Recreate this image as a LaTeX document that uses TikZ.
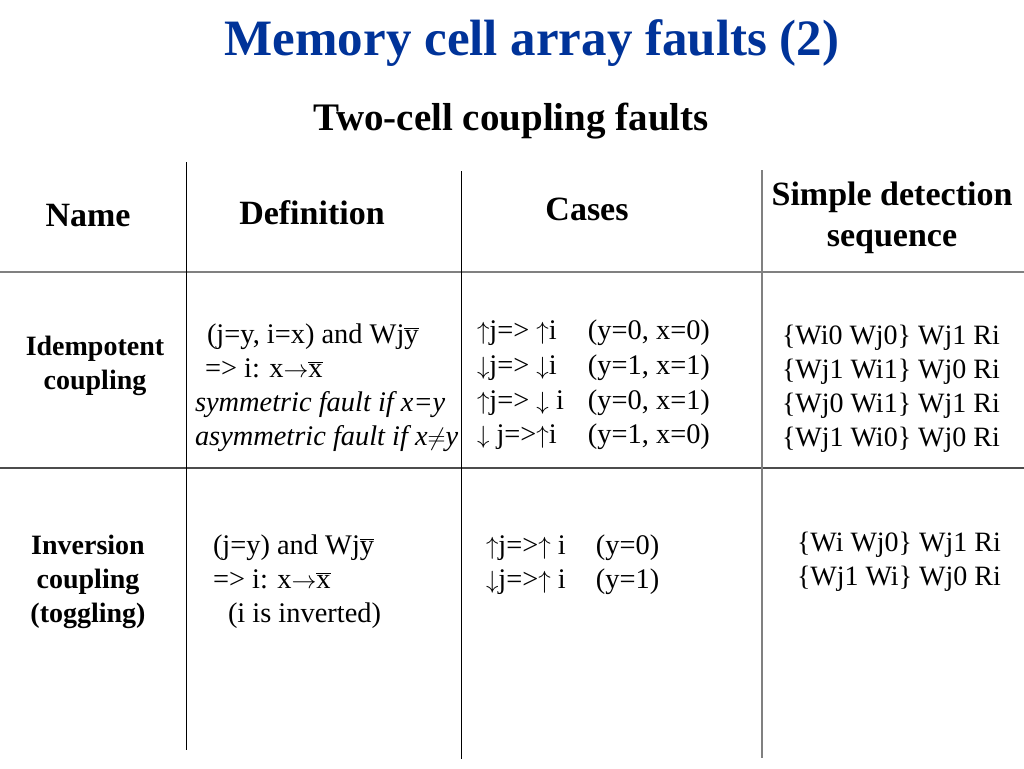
\documentclass[tikz,border=0pt]{standalone}
\usepackage{fontspec}
\setmainfont{Liberation Serif}
\definecolor{titleblue}{HTML}{003399}
\definecolor{rulegray}{HTML}{808080}
\newcommand\ovl[1]{$\overline{\hbox{#1}}$}
\newcommand\up{$\uparrow$}
\newcommand\dn{$\downarrow$}
\newcommand\ra{$\rightarrow$}
\begin{document}
\begin{tikzpicture}[x=1pt,y=-1pt,
  every node/.style={inner sep=0pt,outer sep=0pt},
  titlefont/.style={font=\fontsize{51}{60}\selectfont\bfseries,text=titleblue},
  subfont/.style={font=\fontsize{39}{46}\selectfont\bfseries},
  headfont/.style={font=\fontsize{34}{40}\selectfont\bfseries},
  labfont/.style={font=\fontsize{28}{34}\selectfont\bfseries},
  bodyfont/.style={font=\fontsize{28.4}{34}\selectfont},
  seqfont/.style={font=\fontsize{28}{34}\selectfont},
  hrule/.style={draw=rulegray,line width=2.2pt},
  vrule/.style={draw=black,line width=1pt}]
\useasboundingbox[fill=white] (0,0) rectangle (1024,768);
% rules
\coordinate (h1l) at (0,272); \coordinate (h1r) at (1024,272);
\coordinate (h2l) at (0,468); \coordinate (h2r) at (1024,468);
\coordinate (v1t) at (186,162); \coordinate (v1b) at (186,750);
\coordinate (v2t) at (461,171); \coordinate (v2b) at (461,759);
\coordinate (v3t) at (762,170); \coordinate (v3b) at (762,758);
\draw[hrule] (h1l) -- (h1r);
\draw[hrule,draw=black!70] (h2l) -- (h2r);
\draw[vrule] (v1t) -- (v1b);
\draw[vrule] (v2t) -- (v2b);
\draw[vrule,draw=rulegray,line width=1.6pt] (v3t) -- (v3b);
% titles
\node[titlefont,anchor=base] (title) at (532,56) {Memory cell array faults (2)};
\node[subfont,anchor=base] (sub) at (511,130) {Two-cell coupling faults};
% headers
\node[headfont,anchor=base] (hname) at (88,226) {Name};
\node[headfont,anchor=base] (hdef) at (312,224) {Definition};
\node[headfont,anchor=base] (hcases) at (587,220) {Cases};
\node[headfont,anchor=base] (hsimple) at (892,205) {Simple detection};
\node[headfont,anchor=base] (hseq) at (892,246) {sequence};
% row 1 label
\node[labfont,anchor=base] (l1a) at (95,355) {Idempotent};
\node[labfont,anchor=base] (l1b) at (95,389) {coupling};
% row 1 definition
\node[bodyfont,anchor=base west] (d1a) at (207,343) {(j=y, i=x) and Wj\ovl{y}};
\node[bodyfont,anchor=base west] (d1b) at (205,377) {=> i: x\ra\ovl{x}};
\node[bodyfont,anchor=base west] (d1c) at (195,411) {\itshape symmetric fault if x=y};
\node[bodyfont,anchor=base west] (d1d) at (195,445) {\itshape asymmetric fault if x$\neq$y};
% row 1 cases
\node[bodyfont,anchor=base west] (c1a) at (477,339) {\makebox[111pt][l]{\up j=> \up i}(y=0, x=0)};
\node[bodyfont,anchor=base west] (c1b) at (477,374) {\makebox[111pt][l]{\dn j=> \dn i}(y=1, x=1)};
\node[bodyfont,anchor=base west] (c1c) at (477,409) {\makebox[111pt][l]{\up j=> \dn\ i}(y=0, x=1)};
\node[bodyfont,anchor=base west] (c1d) at (477,443) {\makebox[111pt][l]{\dn\ j=>\up i}(y=1, x=0)};
% row 1 detection
\node[seqfont,anchor=base west] (s1a) at (782,344) {\{Wi0 Wj0\} Wj1 Ri};
\node[seqfont,anchor=base west] (s1b) at (782,378) {\{Wj1 Wi1\} Wj0 Ri};
\node[seqfont,anchor=base west] (s1c) at (782,412) {\{Wj0 Wi1\} Wj1 Ri};
\node[seqfont,anchor=base west] (s1d) at (782,446) {\{Wj1 Wi0\} Wj0 Ri};
% row 2 label
\node[labfont,anchor=base] (l2a) at (88,554) {Inversion};
\node[labfont,anchor=base] (l2b) at (88,588) {coupling};
\node[labfont,anchor=base] (l2c) at (88,622) {(toggling)};
% row 2 definition
\node[bodyfont,anchor=base west] (d2a) at (213,554) {(j=y) and Wj\ovl{y}};
\node[bodyfont,anchor=base west] (d2b) at (213,588) {=> i: x\ra\ovl{x}};
\node[bodyfont,anchor=base west] (d2c) at (228,622) {(i is inverted)};
% row 2 cases
\node[bodyfont,anchor=base west] (c2a) at (486,554) {\makebox[110pt][l]{\up j=>\up\ i}(y=0)};
\node[bodyfont,anchor=base west] (c2b) at (486,588) {\makebox[110pt][l]{\dn j=>\up\ i}(y=1)};
% row 2 detection
\node[seqfont,anchor=base west] (s2a) at (797,551) {\{Wi Wj0\} Wj1 Ri};
\node[seqfont,anchor=base west] (s2b) at (797,585) {\{Wj1 Wi\} Wj0 Ri};
\end{tikzpicture}
\end{document}
